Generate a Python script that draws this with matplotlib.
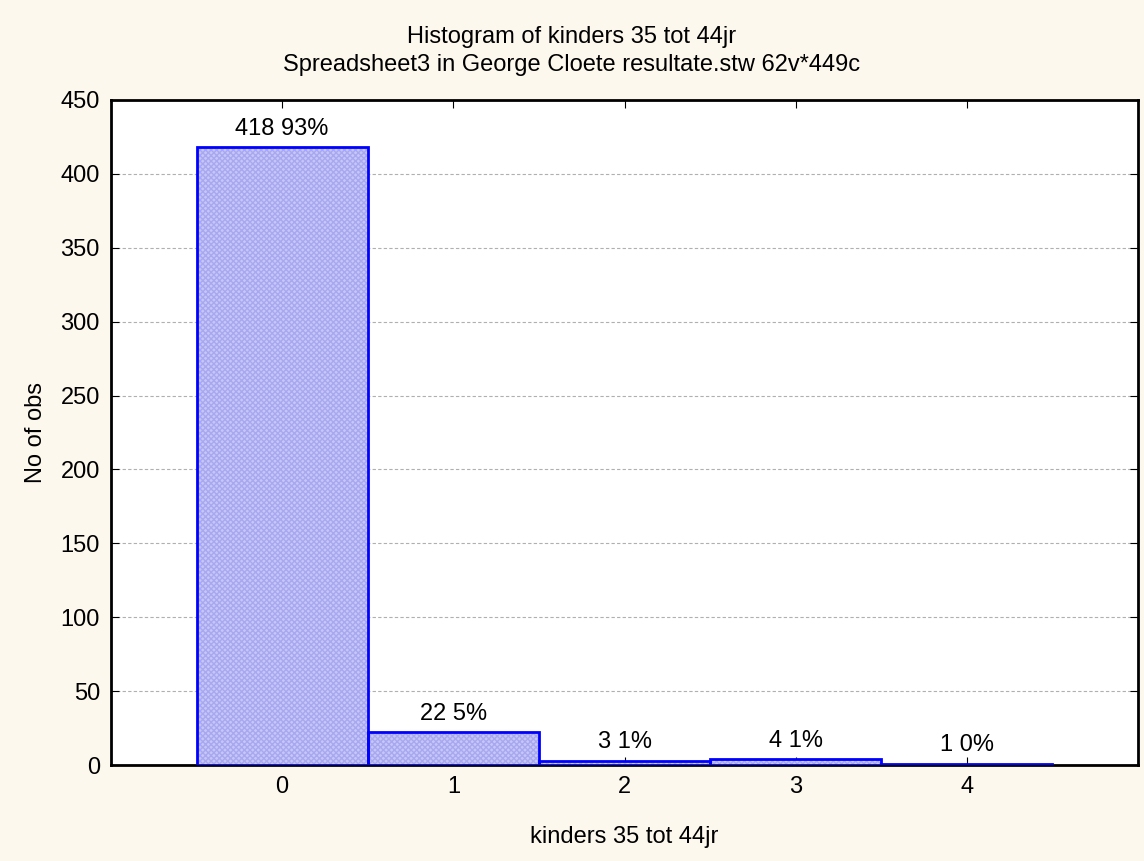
import matplotlib.pyplot as plt

plt.rcParams['font.family'] = ['Liberation Sans', 'DejaVu Sans']

categories = [0, 1, 2, 3, 4]
counts = [418, 22, 3, 4, 1]
percents = ['93%', '5%', '1%', '1%', '0%']

fig = plt.figure(figsize=(11.44, 8.61), dpi=100, facecolor='#fdf8ee')
ax = fig.add_axes([111 / 1144, 1 - 765 / 861, (1138 - 111) / 1144, (765 - 100) / 861])
ax.set_facecolor('white')

# fill with a fine pattern, then the blue outline on top
ax.bar(categories, counts, width=1.0, color='#c6c6f8', edgecolor='#a8a8f0', hatch='xxxxxx',
       linewidth=0, zorder=3)
ax.bar(categories, counts, width=1.0, color='none', edgecolor='#0000ff', linewidth=2, zorder=4)
for x, c, p in zip(categories, counts, percents):
    ax.text(x, c + 5, f'{c} {p}', ha='center', va='bottom', fontsize=17)

ax.set_xlim(-1, 5)
ax.set_ylim(0, 450)
ax.set_xticks(categories)
ax.set_yticks(range(0, 451, 50))
ax.tick_params(direction='in', top=True, right=True, labelsize=17, length=6, pad=8)
ax.grid(axis='y', color='#b0b0b0', linestyle=(0, (3, 2)), linewidth=0.8, zorder=0)
for s in ax.spines.values():
    s.set_linewidth(2)

ax.set_xlabel('kinders 35 tot 44jr', fontsize=17, labelpad=20)
ax.set_ylabel('No of obs', fontsize=17, labelpad=10)
fig.text(0.5, 1 - 37 / 861, 'Histogram of kinders 35 tot 44jr', ha='center', va='center', fontsize=17)
fig.text(0.5, 1 - 65 / 861, 'Spreadsheet3 in George Cloete resultate.stw 62v*449c', ha='center', va='center', fontsize=17)

fig.savefig('out.png', dpi=100, facecolor=fig.get_facecolor())
